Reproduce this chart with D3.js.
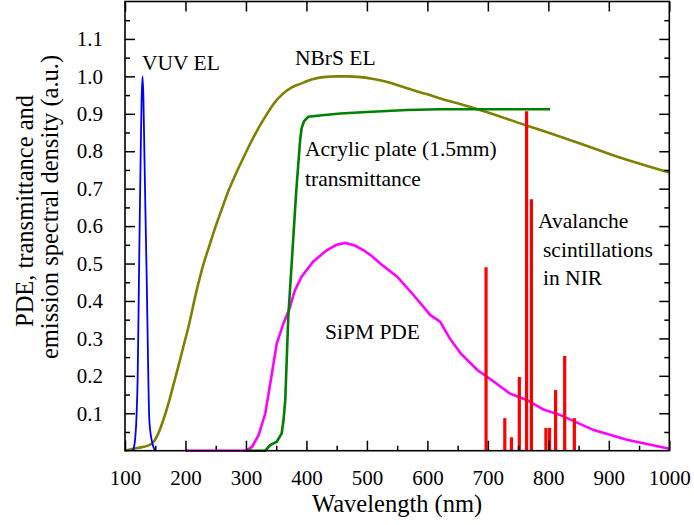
<!DOCTYPE html>
<html>
<head>
<meta charset="utf-8">
<script src="https://cdn.jsdelivr.net/npm/d3@7"></script>
<style>
  body { margin: 0; background: #fff; }
  svg text { font-family: "Liberation Serif", "Times New Roman", Times, "DejaVu Serif", serif; fill: #000; }
</style>
</head>
<body>
<svg id="svg" width="694" height="525"></svg>
<script>
// VUV electroluminescence
const vuvWl  = [113, 116, 119, 121, 123, 124.5, 126, 127.5, 129, 130.5, 132, 134, 136, 138, 140, 142, 144, 147, 150];
const vuvVal = [0, 0.02, 0.09, 0.2, 0.45, 0.63, 0.8, 0.94, 1.0, 0.94, 0.8, 0.62, 0.45, 0.25, 0.09, 0.05, 0.029, 0.01, 0];

// NBrS electroluminescence
const nbrsWl  = [100, 120, 140, 145, 150, 155, 165, 172, 180, 188, 196, 205, 218, 230, 238, 250, 260, 270, 282, 295, 307, 320, 335, 345, 360, 375, 390, 410, 428, 450, 467, 490, 511, 540, 566, 600, 621, 650, 687, 720, 765, 803, 850, 913, 950, 1000];
const nbrsVal = [0, 0.007, 0.015, 0.02, 0.03, 0.046, 0.09, 0.127, 0.175, 0.224, 0.275, 0.331, 0.425, 0.5, 0.54, 0.6, 0.645, 0.69, 0.735, 0.78, 0.82, 0.86, 0.9, 0.925, 0.952, 0.97, 0.98, 0.992, 0.998, 1.0, 1.0, 0.998, 0.993, 0.982, 0.968, 0.952, 0.941, 0.928, 0.91, 0.893, 0.868, 0.848, 0.822, 0.786, 0.767, 0.743];

// acrylic plate transmittance
const acrWl  = [300, 332, 340, 351, 359, 362, 365, 370, 377, 383, 389.6, 392, 396, 403, 430, 456, 500, 566, 620, 687, 750, 803];
const acrVal = [0, 0, 0.015, 0.024, 0.046, 0.08, 0.135, 0.358, 0.536, 0.69, 0.83, 0.861, 0.88, 0.892, 0.897, 0.901, 0.905, 0.91, 0.912, 0.912, 0.912, 0.912];

// SiPM PDE
const pdeWl  = [200, 300, 310, 321, 332, 343, 351, 362, 372, 381, 392, 411, 434, 450, 464, 480, 494, 508, 522, 550, 577, 605, 621, 637, 655, 683, 701, 736, 765, 792, 820, 875, 930, 1000];
const pdeVal = [0, 0, 0.01, 0.042, 0.1, 0.207, 0.287, 0.34, 0.38, 0.429, 0.465, 0.505, 0.536, 0.55, 0.555, 0.548, 0.536, 0.52, 0.5, 0.465, 0.416, 0.362, 0.345, 0.3, 0.26, 0.215, 0.195, 0.153, 0.135, 0.11, 0.095, 0.055, 0.029, 0.005];

// avalanche scintillation lines in NIR
const nirWl  = [697, 728, 739, 752, 764, 772, 796, 802, 812, 827, 843];
const nirVal = [0.49, 0.087, 0.036, 0.197, 0.907, 0.672, 0.061, 0.061, 0.162, 0.253, 0.087];

const xTicks = [100, 200, 300, 400, 500, 600, 700, 800, 900, 1000];
const yTicks = [0.1, 0.2, 0.3, 0.4, 0.5, 0.6, 0.7, 0.8, 0.9, 1.0, 1.1];

const serif = "'Liberation Serif', 'Times New Roman', Times, 'DejaVu Serif', serif";

// plot frame
const plotLeft = 125, plotRight = 669.3, plotTop = 1.5, plotBottom = 450.7;

const x = d3.scaleLinear().domain([100, 1000]).range([plotLeft, plotRight]);
const y = d3.scaleLinear().domain([0, 1.2]).range([plotBottom, plotTop]);

const svg = d3.select("#svg");

const line = (curve) => d3.line()
  .x(d => x(d[0]))
  .y(d => y(d[1]))
  .curve(curve);

const zip = (a, b) => a.map((v, i) => [v, b[i]]);

// curves
svg.append("path")
  .attr("d", line(d3.curveMonotoneX)(zip(nbrsWl, nbrsVal)))
  .attr("fill", "none").attr("stroke", "#808000").attr("stroke-width", 2.6);

svg.append("path")
  .attr("d", line(d3.curveMonotoneX)(zip(vuvWl, vuvVal)))
  .attr("fill", "none").attr("stroke", "#0000ff").attr("stroke-width", 1.8);

svg.append("path")
  .attr("d", line(d3.curveLinear)(zip(pdeWl, pdeVal)))
  .attr("fill", "none").attr("stroke", "#ff00ff").attr("stroke-width", 2.6);

svg.append("path")
  .attr("d", line(d3.curveLinear)(zip(acrWl, acrVal)))
  .attr("fill", "none").attr("stroke", "#008000").attr("stroke-width", 2.6);

// NIR lines
svg.selectAll(".nir")
  .data(zip(nirWl, nirVal))
  .enter()
  .append("line")
  .attr("x1", d => x(d[0])).attr("x2", d => x(d[0]))
  .attr("y1", y(0)).attr("y2", d => y(d[1]))
  .attr("stroke", "#ff0000").attr("stroke-width", 3.2);

// axes, ticks point inwards
const xMinor = d3.range(150, 1000, 100);
const yMinor = d3.range(0.05, 1.2, 0.1);

svg.append("g")
  .attr("transform", `translate(0, ${plotBottom})`)
  .call(d3.axisBottom(x).tickValues(xMinor).tickSize(-5).tickFormat(""));
svg.append("g")
  .attr("transform", `translate(0, ${plotBottom})`)
  .call(d3.axisBottom(x).tickValues(xTicks).tickSize(-10).tickPadding(19).tickFormat(d3.format("d")));
svg.append("g")
  .attr("transform", `translate(0, ${plotTop})`)
  .call(d3.axisTop(x).tickValues(xTicks).tickSize(-10).tickFormat(""));

svg.append("g")
  .attr("transform", `translate(${plotLeft}, 0)`)
  .call(d3.axisLeft(y).tickValues(yMinor).tickSize(-5).tickFormat(""));
svg.append("g")
  .attr("transform", `translate(${plotLeft}, 0)`)
  .call(d3.axisLeft(y).tickValues(yTicks).tickSize(-10).tickPadding(22).tickFormat(d3.format(".1f")));
svg.append("g")
  .attr("transform", `translate(${plotRight}, 0)`)
  .call(d3.axisRight(y).tickValues(yMinor).tickSize(-5).tickFormat(""));
svg.append("g")
  .attr("transform", `translate(${plotRight}, 0)`)
  .call(d3.axisRight(y).tickValues(yTicks).tickSize(-10).tickFormat(""));

svg.selectAll("g").attr("font-family", serif);
svg.selectAll(".domain").remove();
svg.selectAll(".tick line").attr("stroke", "#000").attr("stroke-width", 1.5);
svg.selectAll(".tick text")
  .attr("font-size", 21)
  .style("font-family", serif);

// frame
svg.append("rect")
  .attr("x", plotLeft).attr("y", plotTop)
  .attr("width", plotRight - plotLeft).attr("height", plotBottom - plotTop)
  .attr("fill", "none").attr("stroke", "#000").attr("stroke-width", 1.6);

// axis titles
svg.append("text")
  .attr("x", (plotLeft + plotRight) / 2).attr("y", 512)
  .attr("text-anchor", "middle").attr("font-size", 24.5)
  .style("font-family", serif)
  .text("Wavelength (nm)");

svg.append("text")
  .attr("transform", "translate(33, 211) rotate(-90)")
  .attr("text-anchor", "middle").attr("font-size", 24.5)
  .style("font-family", serif)
  .text("PDE, transmittance and");
svg.append("text")
  .attr("transform", "translate(58, 207) rotate(-90)")
  .attr("text-anchor", "middle").attr("font-size", 24.5)
  .style("font-family", serif)
  .text("emission spectral density (a.u.)");

// curve labels
const notes = [
  ["VUV EL", 142, 70],
  ["NBrS EL", 295, 65],
  ["Acrylic plate (1.5mm)", 305, 156],
  ["transmittance", 305, 186],
  ["SiPM PDE", 325, 339],
  ["Avalanche", 538, 228],
  ["scintillations", 543, 257],
  ["in NIR", 543, 285]
];
svg.selectAll(".note")
  .data(notes)
  .enter()
  .append("text")
  .attr("x", d => d[1]).attr("y", d => d[2])
  .attr("font-size", 21.5)
  .style("font-family", serif)
  .text(d => d[0]);
</script>
</body>
</html>
